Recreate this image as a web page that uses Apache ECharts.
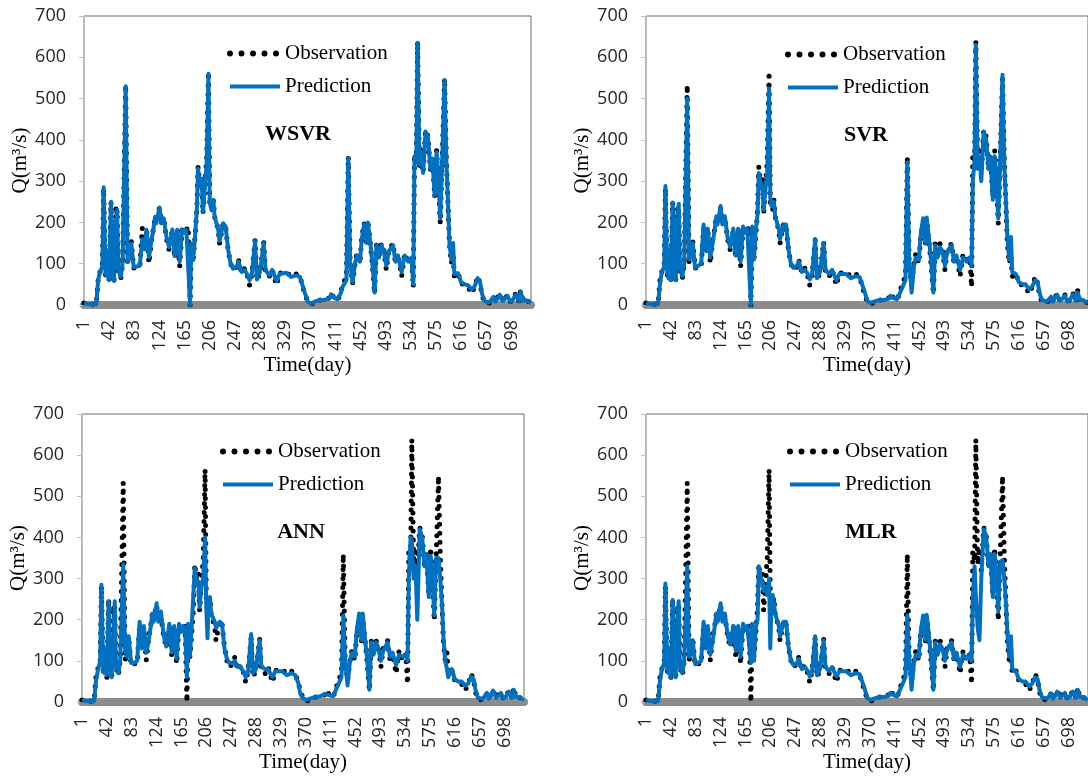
<!DOCTYPE html>
<html>
<head>
<meta charset="utf-8">
<script src="https://cdn.jsdelivr.net/npm/echarts@6/dist/echarts.min.js"></script>
<style>
html,body{margin:0;padding:0;background:#fff;}
#chart{width:1088px;height:776px;}
</style>
</head>
<body>
<div id="chart"></div>
<script>
// ---- data ----
const N_DAYS = 730;
const MODEL_NAMES = ['WSVR', 'SVR', 'ANN', 'MLR'];
const Y_TICKS = [0, 100, 200, 300, 400, 500, 600, 700];

// key days at which values were read
const DAYS = [
  1,8,21,24,27,31,33,36,38,40,
  42,45,48,50,51,53,54,55,57,61,
  64,69,72,75,78,82,87,92,96,100,
  103,107,111,114,117,119,124,127,131,136,
  140,145,149,153,157,161,165,168,171,174,
  176,179,182,185,187,190,193,195,198,201,
  204,206,208,210,212,214,220,222,228,232,
  236,240,244,250,253,258,263,268,271,275,
  280,283,288,294,297,303,308,315,320,331,
  339,347,353,358,361,366,372,377,385,394,
  402,404,410,415,420,423,429,432,435,439,
  443,446,451,454,458,462,464,468,471,475,
  478,482,486,490,494,498,505,509,513,519,
  524,530,535,538,540,543,545,548,551,554,
  558,562,566,569,573,576,578,582,585,589,
  592,595,597,600,603,605,611,616,622,627,
  633,638,643,647,650,654,662,669,672,679,
  684,692,696,700,705,710,713,717,722,726,
  730
];

const OBSERVATION = [
  5,2,2,60,80,93,282,72,68,133,
  60,250,69,56,133,234,207,230,85,64,
  101,533,101,117,157,89,93,93,186,133,
  182,101,157,182,214,198,236,198,210,157,
  133,183,113,182,93,183,175,182,190,0,
  149,109,165,230,335,295,311,222,287,351,
  565,246,235,230,254,214,182,149,198,190,
  133,101,85,93,109,77,89,69,48,77,
  157,60,77,153,77,69,85,48,77,80,
  69,75,69,44,28,8,2,8,12,12,
  18,28,16,12,32,50,69,359,101,52,
  101,125,101,165,198,149,202,149,101,28,
  149,117,149,133,85,133,149,101,121,69,
  125,101,117,44,367,343,638,335,375,319,
  424,408,327,359,262,375,327,198,343,549,
  351,230,149,101,120,69,77,52,48,44,
  28,44,69,52,24,8,5,20,8,28,
  10,24,8,12,28,10,35,10,12,8,
  5
];

const WSVR_PRED = [
  5,2,2,60,80,93,285,75,70,130,
  62,250,70,58,130,205,215,230,85,68,
  101,530,105,117,149,92,93,95,160,135,
  182,115,157,182,214,198,236,198,210,160,
  140,183,120,182,105,183,175,182,180,0,
  149,109,165,230,330,295,305,225,285,340,
  560,250,235,230,254,214,182,155,198,190,
  135,101,88,93,105,80,85,72,60,77,
  155,62,80,150,85,72,85,58,75,78,
  68,72,68,45,30,8,3,8,12,12,
  18,26,16,14,30,45,60,355,105,55,
  100,120,105,160,195,150,200,150,105,30,
  145,115,145,130,95,130,145,105,120,80,
  120,105,115,50,360,345,635,340,370,320,
  420,405,330,355,265,370,330,210,340,545,
  350,235,150,110,150,75,77,55,50,48,
  38,45,65,55,28,10,6,20,8,25,
  10,22,8,12,25,10,32,10,12,8,
  5
];

const SVR_PRED = [
  5,2,2,50,80,93,288,80,65,135,
  60,248,65,60,130,220,230,245,85,70,
  100,500,110,115,150,90,95,100,195,130,
  185,115,150,180,215,195,240,195,215,160,
  140,185,120,185,105,190,175,185,185,0,
  190,110,180,220,320,295,290,230,280,320,
  525,260,240,240,250,215,185,160,195,195,
  135,100,90,95,105,80,85,75,62,75,
  160,65,80,150,85,75,85,60,75,75,
  65,70,68,48,35,10,5,8,12,12,
  16,22,16,14,30,40,60,345,110,30,
  95,115,110,170,210,150,212,155,110,30,
  145,115,140,130,95,130,145,105,120,85,
  115,105,115,95,300,350,630,330,360,300,
  420,400,330,360,255,360,330,210,340,558,
  340,240,165,110,165,80,75,55,50,50,
  38,45,60,55,30,12,8,20,8,25,
  10,22,8,12,25,10,30,12,12,8,
  5
];

const ANN_PRED = [
  5,2,2,50,75,100,285,75,70,130,
  65,245,70,60,130,150,200,245,85,70,
  100,335,130,110,160,95,95,100,195,130,
  185,120,150,180,215,195,240,195,220,160,
  135,190,120,185,105,190,170,185,180,60,
  190,110,185,270,325,295,290,230,285,300,
  400,230,155,250,255,215,195,180,195,190,
  130,105,95,95,100,85,85,70,60,75,
  165,70,80,150,85,80,80,60,75,75,
  65,70,65,45,20,8,5,8,12,14,
  20,22,16,14,30,40,60,210,100,40,
  100,120,110,170,215,150,215,150,110,30,
  145,115,145,130,100,125,145,110,120,90,
  115,110,115,100,300,400,390,300,330,200,
  420,400,330,360,255,355,330,210,350,350,
  300,230,160,100,80,60,80,55,50,50,
  40,45,62,55,30,10,8,22,8,28,
  10,22,8,12,25,10,30,12,12,8,
  5
];

const MLR_PRED = [
  5,2,2,50,78,95,288,80,70,130,
  60,248,70,60,130,200,230,245,85,70,
  100,330,110,115,150,92,95,100,195,130,
  185,115,150,180,215,195,240,195,215,160,
  140,185,125,185,110,190,175,185,185,95,
  190,100,180,200,330,300,295,270,280,260,
  300,130,240,260,240,215,185,160,195,195,
  135,100,90,95,105,80,85,75,62,75,
  160,65,80,150,85,75,85,62,75,75,
  65,70,68,48,35,10,5,8,12,12,
  16,22,16,14,30,40,60,210,110,30,
  95,115,110,170,210,150,212,155,110,30,
  145,115,140,130,100,130,145,105,120,85,
  115,105,115,100,250,330,260,180,150,300,
  420,405,330,360,255,360,330,220,340,345,
  300,230,170,110,160,80,75,55,50,50,
  38,45,60,55,30,12,8,20,8,25,
  10,22,8,12,25,10,30,12,12,8,
  5
];

const PREDICTIONS = [WSVR_PRED, SVR_PRED, ANN_PRED, MLR_PRED];

// ---- build ----
const DAY_LABELS = [];
for (let d = 1; d <= N_DAYS; d++) DAY_LABELS.push(String(d));

function toCategoryData(values) {
  const arr = new Array(N_DAYS).fill(null);
  for (let i = 0; i < DAYS.length; i++) arr[DAYS[i] - 1] = values[i];
  return arr;
}

// layout of the four panels
const PANELS = [
  {left: 84,  top: 16,  width: 447, height: 289, legendLeft: 222, legendTop: 38,  labelX: 298, labelY: 134},
  {left: 646, top: 16,  width: 447, height: 289, legendLeft: 780, legendTop: 39,  labelX: 866, labelY: 135},
  {left: 82,  top: 414, width: 442, height: 288, legendLeft: 215, legendTop: 436, labelX: 301, labelY: 532},
  {left: 646, top: 414, width: 445, height: 288, legendLeft: 782, legendTop: 436, labelX: 871, labelY: 532}
];

const SERIF = '"Liberation Serif", "Times New Roman", serif';
const SANS = '"Open Sans", "Noto Sans", sans-serif';
const BLUE = '#0070C0';

const grids = [], xAxes = [], yAxes = [], series = [], legends = [], graphics = [];

PANELS.forEach((p, i) => {
  grids.push({left: p.left, top: p.top, width: p.width, height: p.height,
    show: true, borderColor: '#6b6b6b', borderWidth: 1, containLabel: false});
  xAxes.push({
    gridIndex: i, type: 'category', data: DAY_LABELS, boundaryGap: false, offset: 4,
    axisLine: {show: true, lineStyle: {color: '#8c8c8c', width: 8}},
    axisTick: {show: false},
    splitLine: {show: false},
    axisLabel: {interval: 40, rotate: 90, margin: 11, fontFamily: SANS, fontSize: 18, color: '#262626'},
    name: 'Time(day)', nameLocation: 'middle', nameGap: 46,
    nameTextStyle: {fontFamily: SERIF, fontSize: 21, color: '#000'}
  });
  yAxes.push({
    gridIndex: i, type: 'value', min: Y_TICKS[0], max: Y_TICKS[Y_TICKS.length - 1], interval: 100,
    axisLine: {show: true, lineStyle: {color: '#bfbfbf', width: 1}},
    axisTick: {show: true, length: 5, lineStyle: {color: '#bfbfbf'}},
    splitLine: {show: false},
    axisLabel: {margin: 18, fontFamily: SANS, fontSize: 18, color: '#262626'},
    name: 'Q(m\u00B3/s)', nameLocation: 'middle', nameRotate: 90, nameGap: 51,
    nameTextStyle: {fontFamily: SERIF, fontSize: 21, color: '#000'}
  });
  series.push({
    type: 'line', name: 'Observation', xAxisIndex: i, yAxisIndex: i,
    data: toCategoryData(OBSERVATION), connectNulls: true, symbol: 'none', silent: true,
    lineStyle: {color: '#000', width: 5, type: [0, 9], cap: 'round', join: 'round'}, z: 2
  });
  series.push({
    type: 'line', name: 'Prediction', xAxisIndex: i, yAxisIndex: i,
    data: toCategoryData(PREDICTIONS[i]), connectNulls: true, symbol: 'none', silent: true,
    lineStyle: {color: BLUE, width: 4, join: 'round'}, z: 3
  });
  legends.push({
    orient: 'vertical', left: p.legendLeft, top: p.legendTop,
    itemWidth: 50, itemHeight: 14, itemGap: 12, selectedMode: false,
    textStyle: {fontFamily: SERIF, fontSize: 21, color: '#000'},
    data: [
      {name: 'Observation', itemStyle: {opacity: 0},
       lineStyle: {color: '#000', width: 6, type: [0, 11.5], cap: 'round'}},
      {name: 'Prediction', itemStyle: {opacity: 0},
       lineStyle: {color: BLUE, width: 4, type: 'solid'}}
    ]
  });
  graphics.push({
    type: 'text', x: p.labelX, y: p.labelY, z: 10,
    style: {text: MODEL_NAMES[i], font: 'bold 22px ' + SERIF, fill: '#000',
      align: 'center', verticalAlign: 'middle'}
  });
});

const chart = echarts.init(document.getElementById('chart'), null, {renderer: 'canvas'});
chart.setOption({
  animation: false,
  backgroundColor: '#fff',
  grid: grids, xAxis: xAxes, yAxis: yAxes, series: series,
  legend: legends, graphic: graphics
});
</script>
</body>
</html>
